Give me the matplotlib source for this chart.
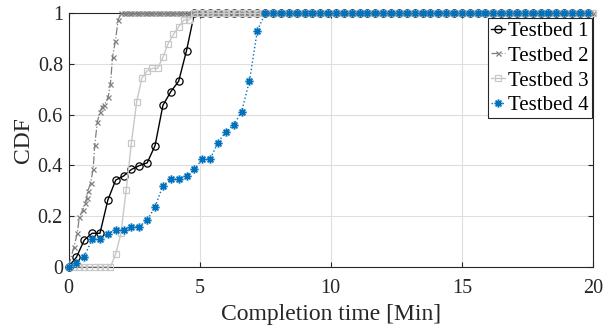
import numpy as np
import matplotlib
matplotlib.use("Agg")
import matplotlib.pyplot as plt
from matplotlib.path import Path

plt.rcParams['font.family'] = ['Liberation Serif', 'DejaVu Serif']

labels = ["Testbed 1", "Testbed 2", "Testbed 3", "Testbed 4"]

t1_x = [0, 0.3, 0.6, 0.9, 1.2, 1.5, 1.8, 2.1, 2.4, 2.7, 3.0, 3.3, 3.6, 3.9, 4.2, 4.5, 4.8]
t1_y = [0, 0.037, 0.105, 0.132, 0.132, 0.263, 0.342, 0.358, 0.384, 0.399, 0.41,
        0.478, 0.637, 0.691, 0.732, 0.853, 1.0]

t2_x = [0, 0.21, 0.335, 0.41, 0.54, 0.64, 0.69, 0.74, 0.84, 0.94, 1.0, 1.1, 1.2,
        1.29, 1.37, 1.51, 1.6, 1.68, 1.79, 1.89, 2.0]
t2_y = [0, 0.079, 0.132, 0.195, 0.224, 0.25, 0.27, 0.3, 0.329, 0.385, 0.48, 0.572,
        0.612, 0.632, 0.638, 0.669, 0.721, 0.829, 0.892, 0.974, 1.0]

t3_x = [0, 0.2, 0.4, 0.6, 0.8, 1.0, 1.2, 1.4, 1.6, 1.8, 2.0, 2.2, 2.4, 2.6, 2.8,
        3.0, 3.2, 3.4, 3.6, 3.8, 4.0, 4.2, 4.4, 4.6, 4.8]
t3_y = [0, 0, 0, 0, 0, 0, 0, 0, 0, 0.05, 0.132, 0.303, 0.49, 0.652, 0.745, 0.774,
        0.783, 0.783, 0.827, 0.881, 0.917, 0.947, 0.974, 0.974, 1.0]

t4_x = [0, 0.3, 0.6, 0.9, 1.2, 1.5, 1.8, 2.1, 2.4, 2.7, 3.0, 3.3, 3.6, 3.9, 4.2,
        4.5, 4.8, 5.1, 5.4, 5.7, 6.0, 6.3, 6.6, 6.9, 7.2, 7.5]
t4_y = [0, 0.013, 0.039, 0.108, 0.108, 0.13, 0.145, 0.145, 0.158, 0.158, 0.184,
        0.236, 0.32, 0.345, 0.345, 0.36, 0.384, 0.425, 0.425, 0.49, 0.533, 0.56,
        0.612, 0.733, 0.932, 1.0]

# sampling step of the CDF = 1 tail up to 20 min
tail_steps = [0.3, 0.1, 0.2, 0.3]
x_max = 20

series = [(t1_x, t1_y), (t2_x, t2_y), (t3_x, t3_y), (t4_x, t4_y)]

# MATLAB-like asterisk marker ("+" and "x" overlaid)
d = 0.7071
asterisk = Path([(-1, 0), (1, 0), (0, -1), (0, 1), (-d, -d), (d, d), (-d, d), (d, -d)],
                [Path.MOVETO, Path.LINETO] * 4)

styles = [
    dict(color='black', linestyle='-', marker='o', markersize=5.2,
         markerfacecolor='none', markeredgewidth=0.9, linewidth=1.0),
    dict(color='#808080', linestyle='-.', marker='x', markersize=3.6,
         markeredgewidth=0.9, linewidth=0.9),
    dict(color='#c8c8c8', linestyle='-', marker='s', markersize=3.8,
         markerfacecolor='none', markeredgewidth=0.9, linewidth=1.0),
    dict(color='#0072bd', linestyle=':', marker=asterisk, markersize=6.0,
         markerfacecolor='none', markeredgewidth=1.3, linewidth=1.0),
]

fig = plt.figure(figsize=(6.03, 3.28), dpi=100)
ax = fig.add_axes([68.5 / 603, (328 - 266.7) / 328, (593 - 68.5) / 603, (266.7 - 13.4) / 328])

for (xs, ys), step, st, lab in zip(series, tail_steps, styles, labels):
    tail = np.round(np.arange(xs[-1] + step, x_max + 1e-9, step), 3)
    x_all = list(xs) + list(tail)
    y_all = list(ys) + [1.0] * len(tail)
    ax.plot(x_all, y_all, label=lab, clip_on=False, zorder=3, **st)

ax.set_xlim(0, 20)
ax.set_ylim(0, 1)
ax.set_xticks([0, 5, 10, 15, 20])
ax.set_yticks([0, 0.2, 0.4, 0.6, 0.8, 1])
ax.set_yticklabels(["0", "0.2", "0.4", "0.6", "0.8", "1"])
ax.grid(True, color='#dedede', linewidth=0.8)
ax.set_axisbelow(True)
for sp in ax.spines.values():
    sp.set_color('#262626')
    sp.set_linewidth(0.8)
ax.tick_params(direction='in', length=3.5, width=0.8, colors='#262626',
               labelsize=14.5, top=True, right=True)
ax.tick_params(axis='x', pad=9)
ax.tick_params(axis='y', pad=4)
ax.set_xlabel("Completion time [Min]", fontsize=17, color='#262626', labelpad=4)
ax.set_ylabel("CDF", fontsize=17, color='#262626', labelpad=3)

leg = ax.legend(loc='upper right', bbox_to_anchor=(0.9975, 0.9807), borderaxespad=0,
                fontsize=15, handlelength=0.65, handletextpad=0.15, borderpad=0.15,
                labelspacing=0.25, numpoints=1, frameon=True, fancybox=False,
                framealpha=1)
leg.get_frame().set_edgecolor('#262626')
leg.get_frame().set_linewidth(0.8)
leg.set_zorder(5)

fig.savefig("out.png", dpi=100)
